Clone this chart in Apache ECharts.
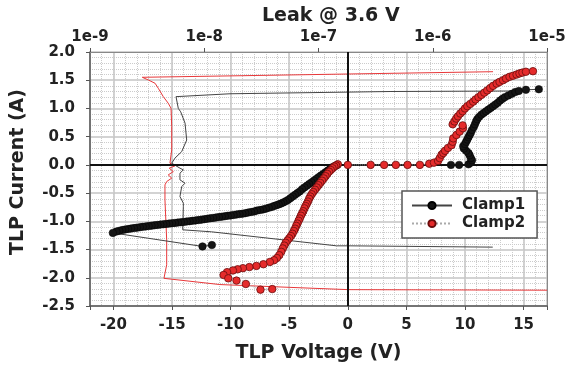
<!DOCTYPE html>
<html><head><meta charset="utf-8">
<script src="https://cdn.jsdelivr.net/npm/echarts@6/dist/echarts.min.js"></script>
<style>html,body{margin:0;padding:0;background:#fff}#c{width:580px;height:369px}</style>
</head><body><div id="c"></div><script>
// TLP I-V data [voltage V, current A]
const clamp1Neg = [[-0.9,0.00],[-1.1,-0.02],[-1.3,-0.04],[-1.5,-0.07],[-1.7,-0.10],[-1.9,-0.13],[-2.1,-0.16],[-2.3,-0.19],[-2.5,-0.22],[-2.7,-0.25],[-2.9,-0.28],[-3.1,-0.31],[-3.3,-0.34],[-3.5,-0.37],[-3.7,-0.40],[-3.9,-0.43],[-4.1,-0.47],[-4.3,-0.50],[-4.5,-0.53],[-4.7,-0.56],[-4.9,-0.59],[-5.1,-0.62],[-5.3,-0.645],[-5.5,-0.665],[-5.7,-0.685],[-5.9,-0.70],[-6.1,-0.715],[-6.3,-0.73],[-6.5,-0.745],[-6.75,-0.76],[-7.0,-0.775],[-7.25,-0.79],[-7.5,-0.80],[-7.75,-0.81],[-8.0,-0.825],[-8.25,-0.835],[-8.5,-0.845],[-8.75,-0.855],[-9.0,-0.865],[-9.25,-0.872],[-9.5,-0.88],[-9.75,-0.888],[-10.0,-0.895],[-10.25,-0.902],[-10.5,-0.91],[-10.75,-0.917],[-11.0,-0.925],[-11.25,-0.932],[-11.5,-0.94],[-11.75,-0.947],[-12.0,-0.955],[-12.25,-0.962],[-12.5,-0.97],[-12.75,-0.977],[-13.0,-0.985],[-13.25,-0.99],[-13.5,-0.997],[-13.75,-1.003],[-14.0,-1.01],[-14.25,-1.016],[-14.5,-1.022],[-14.75,-1.028],[-15.0,-1.034],[-15.25,-1.04],[-15.5,-1.046],[-15.75,-1.052],[-16.0,-1.058],[-16.25,-1.064],[-16.5,-1.07],[-16.75,-1.077],[-17.0,-1.084],[-17.25,-1.091],[-17.5,-1.098],[-17.75,-1.105],[-18.0,-1.112],[-18.25,-1.12],[-18.5,-1.128],[-18.75,-1.136],[-19.0,-1.145],[-19.25,-1.155],[-19.5,-1.168],[-19.75,-1.182],[-20.05,-1.205],[-12.4,-1.445],[-11.6,-1.42]];
const clamp1Pos = [[8.8,0.0],[9.5,0.0],[10.3,0.01],[10.5,0.04],[10.6,0.08],[10.5,0.12],[10.4,0.17],[10.3,0.21],[10.1,0.25],[9.9,0.29],[9.85,0.33],[10.0,0.37],[10.1,0.41],[10.2,0.45],[10.3,0.49],[10.4,0.53],[10.5,0.57],[10.6,0.62],[10.75,0.67],[10.85,0.72],[10.95,0.77],[11.05,0.81],[11.2,0.85],[11.4,0.89],[11.6,0.92],[11.8,0.95],[12.0,0.98],[12.2,1.01],[12.4,1.04],[12.6,1.07],[12.8,1.10],[13.0,1.14],[13.2,1.17],[13.4,1.20],[13.7,1.23],[14.0,1.26],[14.3,1.29],[14.6,1.31],[15.2,1.33],[16.3,1.34]];
const clamp2Neg = [[-0.85,0.01],[-1.0,-0.01],[-1.15,-0.03],[-1.3,-0.06],[-1.45,-0.09],[-1.6,-0.12],[-1.75,-0.16],[-1.9,-0.2],[-2.05,-0.24],[-2.2,-0.28],[-2.35,-0.32],[-2.5,-0.36],[-2.65,-0.4],[-2.8,-0.44],[-2.95,-0.48],[-3.08,-0.52],[-3.2,-0.56],[-3.3,-0.6],[-3.4,-0.65],[-3.5,-0.69],[-3.6,-0.73],[-3.7,-0.77],[-3.8,-0.82],[-3.9,-0.86],[-4.0,-0.9],[-4.1,-0.95],[-4.2,-0.99],[-4.3,-1.04],[-4.4,-1.08],[-4.5,-1.13],[-4.6,-1.17],[-4.72,-1.22],[-4.85,-1.26],[-5.0,-1.3],[-5.15,-1.34],[-5.3,-1.38],[-5.42,-1.43],[-5.55,-1.48],[-5.68,-1.54],[-5.85,-1.6],[-6.05,-1.65],[-6.3,-1.69],[-6.65,-1.72],[-7.2,-1.76],[-7.8,-1.79],[-8.4,-1.81],[-8.95,-1.83],[-9.4,-1.85],[-9.8,-1.87],[-10.3,-1.9],[-10.6,-1.95],[-10.2,-2.01],[-9.5,-2.05],[-8.7,-2.11],[-7.45,-2.21],[-6.45,-2.2]];
const clamp2Pos = [[0,0],[1.95,0],[3.1,0],[4.1,0],[5.1,0],[6.15,0],[6.95,0.02],[7.35,0.04],[7.7,0.07],[7.85,0.12],[8.0,0.18],[8.15,0.21],[8.3,0.25],[8.55,0.3],[8.85,0.35],[8.95,0.41],[9.0,0.47],[9.27,0.53],[9.55,0.59],[9.83,0.65],[9.8,0.7],[8.95,0.72],[9.1,0.77],[9.25,0.82],[9.4,0.86],[9.6,0.91],[9.8,0.95],[10.0,1.0],[10.2,1.04],[10.45,1.08],[10.7,1.12],[10.9,1.16],[11.15,1.2],[11.4,1.24],[11.65,1.28],[11.9,1.32],[12.15,1.36],[12.4,1.4],[12.7,1.44],[12.95,1.47],[13.25,1.5],[13.5,1.53],[13.8,1.56],[14.1,1.58],[14.4,1.6],[14.65,1.62],[14.9,1.635],[15.2,1.65],[15.8,1.66]];
// Leak @ 3.6 V data [leakage A, TLP current A]
const leak1 = [[6.41e-6,1.31],[4.23e-7,1.30],[1.68e-8,1.26],[5.66e-9,1.209],[5.81e-9,1.18],[5.93e-9,1.0],[6.22e-9,0.94],[6.79e-9,0.74],[7.02e-9,0.44],[6.35e-9,0.235],[5.54e-9,0.12],[5.19e-9,0.03],[6.13e-9,-0.058],[6.56e-9,-0.088],[6.13e-9,-0.147],[6.13e-9,-0.265],[6.79e-9,-0.324],[6.35e-9,-0.384],[6.13e-9,-0.561],[6.56e-9,-0.678],[6.56e-9,-0.738],[6.48e-9,-1.15],[1.16e-8,-1.186],[1.44e-7,-1.434],[1.89e-7,-1.434],[3.35e-6,-1.457]];
const leak2 = [[3.37e-6,1.651],[2.87e-9,1.552],[3.24e-9,1.504],[3.71e-9,1.446],[3.96e-9,1.357],[4.38e-9,1.209],[4.84e-9,1.092],[5.12e-9,1.003],[5.19e-9,0.678],[5.19e-9,0.265],[5.01e-9,0.030],[5.54e-9,-0.018],[4.94e-9,-0.058],[5.36e-9,-0.119],[4.84e-9,-0.177],[5.19e-9,-0.235],[4.69e-9,-0.295],[4.53e-9,-0.354],[4.53e-9,-0.62],[4.69e-9,-1.33],[4.69e-9,-1.77],[4.44e-9,-2.01],[1.37e-8,-2.12],[5.63e-8,-2.17],[1.81e-7,-2.21],[1e-5,-2.22]];
const leakTickLabels = ['1e-9','1e-8','1e-7','1e-6','1e-5'];
const legendNames = ['Clamp1','Clamp2'];

const FONT = 'DejaVu Sans';
const lbl = {fontFamily:FONT,fontWeight:'bold',fontSize:15,color:'#222'};
const chart = echarts.init(document.getElementById('c'));
chart.setOption({
  animation:false,
  backgroundColor:'#fff',
  textStyle:{fontFamily:FONT},
  title:{text:'Leak @ 3.6 V',left:257,top:2,textStyle:{fontFamily:FONT,fontWeight:'bold',fontSize:19,color:'#222'}},
  grid:{left:90,right:33,top:52,bottom:63},
  legend:{data:legendNames,orient:'vertical',left:402,top:191,padding:[7,12,7,9],itemWidth:40,itemHeight:9,itemGap:3,
    backgroundColor:'#fff',borderColor:'#555',borderWidth:1.5,borderRadius:0,
    textStyle:Object.assign({},lbl,{padding:[0,0,0,5]})},
  xAxis:[
    {type:'value',position:'bottom',min:-22,max:17,splitNumber:8,
     name:'TLP Voltage (V)',nameLocation:'middle',nameGap:38,
     nameTextStyle:{fontFamily:FONT,fontWeight:'bold',fontSize:19,color:'#222'},
     axisLine:{show:true,onZero:false,lineStyle:{color:'#555',width:1.5}},
     axisTick:{show:true,length:4,lineStyle:{color:'#555'}},
     axisLabel:Object.assign({margin:12,showMinLabel:true,showMaxLabel:true,formatter:v=>(Math.abs(v%5)<1e-6?String(Math.round(v)):'')},lbl),
     splitLine:{show:true,lineStyle:{color:'#c4c4c4',width:1.5}}},
    {type:'log',position:'top',logBase:10,min:1e-9,max:1e-5,
     axisLine:{show:true,onZero:false,lineStyle:{color:'#888',width:1}},
     axisTick:{show:true,length:4,lineStyle:{color:'#555'}},
     axisLabel:Object.assign({margin:7,formatter:v=>leakTickLabels[Math.round(Math.log10(v))+9]||''},lbl),
     splitLine:{show:false}},
    {type:'value',position:'bottom',min:-22,max:17,interval:1,
     axisLine:{show:false},axisTick:{show:false},axisLabel:{show:false},
     splitLine:{show:true,lineStyle:{type:'dotted',color:'#cccccc',width:1}}}
  ],
  yAxis:[
    {type:'value',position:'left',min:-2.5,max:2.0,interval:0.5,
     name:'TLP Current (A)',nameLocation:'middle',nameGap:62,
     nameTextStyle:{fontFamily:FONT,fontWeight:'bold',fontSize:19,color:'#222',padding:[0,0,0,14]},
     axisLine:{show:true,onZero:false,lineStyle:{color:'#555',width:1.5}},
     axisTick:{show:true,length:4,lineStyle:{color:'#555'}},
     axisLabel:Object.assign({margin:15,formatter:v=>v.toFixed(1)},lbl),
     splitLine:{show:true,lineStyle:{color:'#c4c4c4',width:1.5}},
     minorTick:{show:false,splitNumber:5},
     minorSplitLine:{show:true,lineStyle:{type:'dotted',color:'#cccccc',width:1}}},
    {type:'value',position:'right',min:-2.5,max:2.0,interval:0.5,
     axisLine:{show:true,onZero:false,lineStyle:{color:'#888',width:1}},
     axisTick:{show:false},axisLabel:{show:false},splitLine:{show:false}}
  ],
  series:[
    {name:'leak2',type:'line',xAxisIndex:1,yAxisIndex:0,data:leak2,symbol:'none',silent:true,
     lineStyle:{color:'#e8383a',width:1},z:2},
    {name:'leak1',type:'line',xAxisIndex:1,yAxisIndex:0,data:leak1,symbol:'none',silent:true,
     lineStyle:{color:'#444',width:1},z:2},
    {name:'Clamp1',type:'line',xAxisIndex:0,yAxisIndex:0,data:clamp1Neg,symbol:'circle',symbolSize:7.5,showAllSymbol:true,
     itemStyle:{color:'#151515',borderColor:'#000',borderWidth:0.5},lineStyle:{color:'#444',width:1},z:4,silent:true,
     markLine:{silent:true,symbol:'none',label:{show:false},lineStyle:{color:'#111',width:2,type:'solid'},
       data:[{xAxis:0},{yAxis:0}]}},
    {name:'Clamp1',type:'line',xAxisIndex:0,yAxisIndex:0,data:clamp1Pos,symbol:'circle',symbolSize:7.5,showAllSymbol:true,
     itemStyle:{color:'#151515',borderColor:'#000',borderWidth:0.5},lineStyle:{color:'#444',width:1},z:4,silent:true},
    {name:'Clamp2',type:'line',xAxisIndex:0,yAxisIndex:0,data:clamp2Neg,symbol:'circle',symbolSize:7.5,showAllSymbol:true,
     itemStyle:{color:'#e52b2b',borderColor:'#6a0c0c',borderWidth:0.8},lineStyle:{color:'#aaa',width:1,type:'dotted'},z:5,silent:true},
    {name:'Clamp2',type:'line',xAxisIndex:0,yAxisIndex:0,data:clamp2Pos,symbol:'circle',symbolSize:7.5,showAllSymbol:true,
     itemStyle:{color:'#e52b2b',borderColor:'#6a0c0c',borderWidth:0.8},lineStyle:{color:'#aaa',width:1,type:'dotted'},z:5,silent:true}
  ]
});
</script></body></html>
